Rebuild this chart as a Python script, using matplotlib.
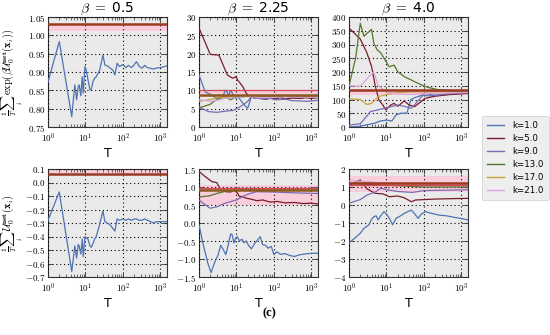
import math
import matplotlib
matplotlib.use("Agg")
import matplotlib.pyplot as plt
from matplotlib.ticker import FixedLocator, FuncFormatter, LogLocator, NullFormatter
from matplotlib.lines import Line2D

plt.rcParams['mathtext.fontset'] = 'cm'
plt.rcParams['font.family'] = ['DejaVu Sans']

# ---------------- data ----------------
k_labels = ['k=1.0', 'k=5.0', 'k=9.0', 'k=13.0', 'k=17.0', 'k=21.0']
k_colors = ['#4f73b3', '#7a1c2c', '#7a6cb4', '#52782a', '#c9a23a', '#dca6d8']
betas = ['0.5', '2.25', '4.0']

# top row, beta = 0.5 (only k=1 inside the range)
tl_k1_T = [1, 2, 4.3, 4.8, 5.2, 5.8, 6.4, 6.8, 7.5, 8.2, 8.7, 9.7, 10.5, 11.7, 13.2, 14.3, 16, 17.5,
           19.4, 23.9, 29.3, 33, 38, 44, 54, 61, 70, 80, 100, 120, 140, 170, 200, 230, 270, 320,
           380, 450, 550, 650, 800, 1000, 1200, 1500]
tl_k1_y = [0.873, 0.983, 0.778, 0.83, 0.865, 0.824, 0.86, 0.865, 0.835, 0.887, 0.842, 0.915, 0.905,
           0.878, 0.851, 0.853, 0.875, 0.883, 0.887, 0.905, 0.946, 0.919, 0.917, 0.912, 0.905, 0.892,
           0.924, 0.915, 0.92, 0.912, 0.918, 0.912, 0.92, 0.928, 0.916, 0.91, 0.918, 0.912, 0.91,
           0.908, 0.911, 0.912, 0.914, 0.917]

# bottom row, beta = 0.5
bl_k1_T = tl_k1_T
bl_k1_y = [-0.28, -0.07, -0.66, -0.55, -0.47, -0.56, -0.46, -0.47, -0.53, -0.42, -0.55, -0.40, -0.41,
           -0.42, -0.47, -0.48, -0.45, -0.42, -0.40, -0.31, -0.21, -0.29, -0.30, -0.31, -0.34, -0.36,
           -0.27, -0.28, -0.27, -0.28, -0.27, -0.28, -0.27, -0.27, -0.28, -0.28, -0.27, -0.28,
           -0.29, -0.30, -0.29, -0.29, -0.29, -0.29]

# top row, beta = 2.25
tm_k1_T = [1, 1.46, 2.2, 3.4, 4.3, 5.2, 6.2, 7.0, 8.5, 9.7, 11, 14.8, 17, 20, 25, 30, 40, 50, 70,
           100, 150, 200, 300, 500, 700, 1000, 1500]
tm_k1_y = [14.2, 9.6, 8.7, 7.4, 8.5, 10.1, 8.7, 10.0, 8.5, 7.8, 8.3, 6.5, 5.8, 5.1, 8.3, 7.8, 8.2,
           7.6, 8.0, 7.8, 8.1, 7.7, 8.0, 7.8, 8.1, 8.0, 8.1]
tm_k5_T = [1, 2, 3.4, 5.7, 7.9, 9.7, 10.8, 14.8, 18.2, 22.4, 30, 40, 60, 80, 100, 150, 200, 300,
           500, 700, 1000, 1500]
tm_k5_y = [27.0, 19.8, 19.6, 14.2, 13.3, 13.7, 12.8, 11.0, 9.2, 8.3, 8.0, 8.4, 7.5, 7.9, 7.6, 8.0,
           7.6, 7.9, 7.8, 8.0, 7.8, 8.0]
tm_k9_T = [1, 1.8, 3, 4.2, 6, 8, 11, 14.8, 20, 25, 35, 50, 80, 120, 200, 300, 500, 800, 1500]
tm_k9_y = [5.4, 4.2, 4.0, 4.2, 4.4, 4.5, 5.2, 6.0, 7.0, 8.3, 7.9, 7.6, 7.8, 7.4, 7.6, 7.2, 7.1, 7.0, 7.3]
tm_k13_T = [1, 2, 3, 4, 5, 7, 10, 15, 20, 30, 50, 100, 300, 1500]
tm_k13_y = [5.2, 6.2, 7.6, 8.0, 8.3, 7.4, 8.4, 8.2, 8.5, 8.3, 8.4, 8.3, 8.4, 8.3]
tm_k17_T = [1, 2, 3, 5, 8, 12, 20, 50, 200, 1500]
tm_k17_y = [7.0, 7.5, 8.0, 8.2, 8.3, 8.5, 8.4, 8.5, 8.5, 8.5]
tm_k21_T = [1, 2, 3, 5, 10, 20, 50, 200, 1500]
tm_k21_y = [7.5, 7.0, 7.3, 7.8, 8.2, 8.3, 8.0, 8.2, 8.1]

# top row, beta = 4.0
tr_k1_T = [1, 2, 3, 4.6, 7, 10, 14, 18, 24, 35, 45, 60, 86, 150, 300, 600, 1000, 1500]
tr_k1_y = [0, 3, 8, 13, 22, 25, 22, 44, 50, 50, 100, 108, 115, 113, 118, 120, 122, 123]
tr_k5_T = [1, 2, 3, 4, 5, 6.3, 8, 9.6, 13, 16, 20, 30, 40, 56, 80, 106, 200, 500, 1500]
tr_k5_y = [360, 320, 270, 220, 150, 98, 80, 62, 80, 86, 75, 95, 80, 74, 90, 104, 112, 118, 122]
tr_k9_T = [1, 2, 3, 3.7, 5, 7, 9.6, 14, 20, 30, 46, 60, 86, 106, 200, 400, 800, 1500]
tr_k9_y = [7, 12, 40, 56, 60, 65, 68, 75, 80, 75, 68, 85, 110, 122, 115, 120, 124, 126]
tr_k13_T = [1, 1.5, 2, 2.5, 3, 4, 4.6, 5.7, 7, 8.6, 11.8, 16, 20, 30, 40, 56, 86, 130, 250, 500, 1500]
tr_k13_y = [150, 250, 377, 330, 340, 355, 304, 280, 270, 250, 219, 225, 201, 183, 175, 165, 153,
            144, 135, 132, 130]
tr_k17_T = [1, 2, 3, 4, 6, 10, 20, 50, 150, 1500]
tr_k17_y = [102, 100, 82, 86, 110, 118, 125, 128, 128, 128]
tr_k21_T = [1, 2, 3, 4.6, 6, 10, 20, 50, 100, 1500]
tr_k21_y = [150, 148, 175, 201, 150, 128, 120, 118, 122, 125]

# bottom row, beta = 2.25
bm_k1_T = [1, 1.3, 1.7, 2.1, 2.6, 3.2, 3.8, 4.5, 5.2, 6, 7, 7.7, 8.5, 9.5, 10.5, 12, 14, 16, 18, 21,
           25, 30, 36, 43, 50, 60, 70, 85, 100, 120, 150, 200, 260, 350, 500, 700, 1000, 1500]
bm_k1_y = [-0.05, -0.6, -1.1, -1.38, -1.1, -0.9, -0.62, -0.75, -0.88, -0.62, -0.3, -0.33, -0.55,
           -0.42, -0.38, -0.5, -0.45, -0.55, -0.5, -0.62, -0.72, -0.58, -0.48, -0.38, -0.6, -0.62,
           -0.7, -0.65, -0.88, -0.8, -0.87, -0.85, -0.9, -0.93, -0.88, -0.86, -0.84, -0.84]
bm_k5_T = [1, 1.46, 2.2, 3, 3.8, 5.2, 7, 8.7, 10.8, 12, 14, 18, 25, 35, 50, 80, 120, 200, 350, 600,
           1000, 1500]
bm_k5_y = [1.43, 1.29, 1.15, 1.12, 0.92, 0.87, 0.86, 0.92, 0.82, 0.73, 0.74, 0.69, 0.66, 0.62, 0.64,
           0.58, 0.6, 0.56, 0.57, 0.54, 0.55, 0.53]
bm_k9_T = [1, 1.5, 2, 3, 5, 10, 18, 34, 100, 300, 1500]
bm_k9_y = [0.64, 0.5, 0.41, 0.45, 0.55, 0.64, 0.78, 0.87, 0.86, 0.84, 0.82]
bm_k13_T = [1, 2, 3, 5, 10, 20, 100, 1500]
bm_k13_y = [0.72, 0.76, 0.82, 0.88, 0.92, 0.93, 0.93, 0.93]
bm_k17_T = [1, 2, 5, 10, 30, 100, 1500]
bm_k17_y = [0.9, 0.93, 0.94, 0.95, 0.95, 0.95, 0.95]
bm_k21_T = [1, 3, 10, 100, 1500]
bm_k21_y = [0.96, 0.95, 0.96, 0.96, 0.96]

# bottom row, beta = 4.0
br_k1_T = [1, 1.5, 2, 2.5, 3.4, 4, 4.6, 5.3, 6, 7, 8.6, 10, 12, 14.6, 18, 24, 30, 37, 46, 55, 70,
           85, 110, 150, 250, 400, 700, 1000, 1500]
br_k1_y = [-2.1, -1.8, -1.57, -1.3, -1.1, -0.8, -0.65, -0.6, -0.83, -0.6, -0.37, -0.5, -0.75, -1.1,
           -0.74, -0.6, -0.46, -0.37, -0.28, -0.46, -0.74, -0.5, -0.37, -0.45, -0.56, -0.6, -0.7,
           -0.75, -0.83]
br_k5_T = [1, 2, 3, 5, 8, 12, 20, 30, 46, 60, 100, 200, 500, 1500]
br_k5_y = [1.1, 1.39, 0.9, 0.65, 0.62, 0.46, 0.5, 0.4, 0.18, 0.28, 0.3, 0.33, 0.35, 0.37]
br_k9_T = [1, 2, 3, 5, 7, 10, 20, 50, 100, 300, 1500]
br_k9_y = [0.1, 0.3, 0.55, 0.72, 0.93, 0.85, 0.75, 0.7, 0.8, 0.82, 0.85]
br_k13_T = [1, 3, 10, 30, 100, 1500]
br_k13_y = [1.2, 1.15, 1.1, 1.05, 1.0, 1.0]
br_k17_T = [1, 3, 10, 100, 1500]
br_k17_y = [1.2, 1.25, 1.15, 1.12, 1.1]
br_k21_T = [1, 3, 10, 100, 1500]
br_k21_y = [1.35, 1.3, 1.2, 1.15, 1.15]

# reference bands and lines per panel
ref_band = {'tl': (1.011, 1.030), 'tm': (8.3, 10.2), 'tr': (115, 140),
            'bl': (0.068, 0.10), 'bm': (0.5, 1.05), 'br': (0.7, 1.6)}
ref_line_main = {'tl': 1.031, 'tm': 8.6, 'tr': 133, 'bl': 0.066, 'bm': 0.93, 'br': 1.2}
ref_line_red = {'tm': 10.2, 'bm': 0.98, 'br': 1.1}

ylims = {'tl': (0.75, 1.05), 'tm': (0, 30), 'tr': (0, 400),
         'bl': (-0.7, 0.1), 'bm': (-1.5, 1.5), 'br': (-4, 2)}
yticks = {'tl': [0.75, 0.80, 0.85, 0.90, 0.95, 1.00, 1.05],
          'tm': [0, 5, 10, 15, 20, 25, 30],
          'tr': [0, 50, 100, 150, 200, 250, 300, 350, 400],
          'bl': [-0.7, -0.6, -0.5, -0.4, -0.3, -0.2, -0.1, 0.0, 0.1],
          'bm': [-1.5, -1.0, -0.5, 0.0, 0.5, 1.0, 1.5],
          'br': [-4, -3, -2, -1, 0, 1, 2]}
yfmt = {'tl': '%.2f', 'tm': '%d', 'tr': '%d', 'bl': '%.1f', 'bm': '%.1f', 'br': '%d'}

series = {
    'tl': [(0, tl_k1_T, tl_k1_y)],
    'bl': [(0, bl_k1_T, bl_k1_y)],
    'tm': [(0, tm_k1_T, tm_k1_y), (1, tm_k5_T, tm_k5_y), (2, tm_k9_T, tm_k9_y),
           (3, tm_k13_T, tm_k13_y), (4, tm_k17_T, tm_k17_y), (5, tm_k21_T, tm_k21_y)],
    'tr': [(0, tr_k1_T, tr_k1_y), (1, tr_k5_T, tr_k5_y), (2, tr_k9_T, tr_k9_y),
           (3, tr_k13_T, tr_k13_y), (4, tr_k17_T, tr_k17_y), (5, tr_k21_T, tr_k21_y)],
    'bm': [(0, bm_k1_T, bm_k1_y), (1, bm_k5_T, bm_k5_y), (2, bm_k9_T, bm_k9_y),
           (3, bm_k13_T, bm_k13_y), (4, bm_k17_T, bm_k17_y), (5, bm_k21_T, bm_k21_y)],
    'br': [(0, br_k1_T, br_k1_y), (1, br_k5_T, br_k5_y), (2, br_k9_T, br_k9_y),
           (3, br_k13_T, br_k13_y), (4, br_k17_T, br_k17_y), (5, br_k21_T, br_k21_y)],
}

# ---------------- figure ----------------
W, H = 550, 335
fig = plt.figure(figsize=(5.5, 3.35), dpi=100)

lefts = [48, 199, 349]
pw = 119
rows = {'t': (17, 127), 'b': (169, 277)}
keys = [['tl', 'tm', 'tr'], ['bl', 'bm', 'br']]

for r, rowkey in enumerate(['t', 'b']):
    ytop, ybot = rows[rowkey]
    for c in range(3):
        key = keys[r][c]
        ax = fig.add_axes([lefts[c] / W, 1 - ybot / H, pw / W, (ybot - ytop) / H])
        ax.set_facecolor('#eaeaea')
        ax.set_xscale('log')
        ax.set_xlim(1, 1500)
        ax.set_ylim(*ylims[key])
        b0, b1 = ref_band[key]
        ax.axhspan(b0, b1, color='#ffc4d6', alpha=0.75, lw=0, zorder=1)
        ax.axhline(ref_line_main[key], color='#8c5a1e' if key in ('tm', 'bm') else '#9a3a22',
                   lw=1.8, zorder=4)
        if key in ref_line_red:
            ax.axhline(ref_line_red[key], color='#d4485a', lw=0.9, zorder=4)
        for idx, T, y in series[key]:
            ax.plot(T, y, color=k_colors[idx], lw=0.9, zorder=3)
        ax.grid(True, which='major', color='black', linestyle=(0, (1, 2.5)), lw=0.8, zorder=2)
        ax.set_axisbelow(False)
        ax.yaxis.set_major_locator(FixedLocator(yticks[key]))
        fmt = yfmt[key]
        ax.yaxis.set_major_formatter(FuncFormatter(lambda v, p, f=fmt: r'$%s$' % (f % v)))
        ax.xaxis.set_major_locator(FixedLocator([1, 10, 100, 1000]))
        ax.xaxis.set_major_formatter(FuncFormatter(lambda v, p: r'$10^{%d}$' % round(math.log10(v))))
        ax.xaxis.set_minor_locator(LogLocator(base=10, subs=range(2, 10), numticks=20))
        ax.xaxis.set_minor_formatter(NullFormatter())
        ax.tick_params(which='both', direction='in', top=True, right=True, labelsize=6.5,
                       color='#333333', pad=2)
        ax.tick_params(axis='x', which='major', pad=3.5)
        ax.tick_params(which='major', length=3.5, width=0.6)
        ax.tick_params(which='minor', length=2, width=0.5)
        for s in ax.spines.values():
            s.set_color('#333333')
            s.set_linewidth(0.8)
        ax.set_xlabel('T', fontsize=9, labelpad=1)
        if r == 0:
            ax.set_title(r'$\beta\ =\ $' + betas[c], fontsize=10, pad=3)
        if key == 'tl':
            ax.set_ylabel(r'$\frac{1}{T}\sum_i\,\exp(\beta\mathcal{U}_0^{\mathbf{net}}(\mathbf{x}_i))$',
                          fontsize=7.5)
            ax.yaxis.set_label_coords(-0.19, 0.5)
        if key == 'bl':
            ax.set_ylabel(r'$\frac{1}{T}\sum_i\,\mathcal{U}_0^{\mathbf{net}}(\mathbf{x}_i)$',
                          fontsize=7.5)
            ax.yaxis.set_label_coords(-0.19, 0.5)

handles = [Line2D([0], [0], color=k_colors[i], lw=1.0) for i in range(6)]
leg = fig.legend(handles, k_labels, loc='center', bbox_to_anchor=(0.937, 0.528), fontsize=6.2,
                 frameon=True, fancybox=True, handlelength=2.0, labelspacing=0.45,
                 borderpad=0.6, handletextpad=1.0)
leg.get_frame().set_facecolor('#eaeaea')
leg.get_frame().set_edgecolor('#cccccc')
leg.get_frame().set_linewidth(0.6)

fig.text(0.490, 0.066, '(c)', ha='center', va='center', fontsize=9,
         family='Liberation Serif', fontweight='bold')

fig.savefig('out.png', dpi=100)
